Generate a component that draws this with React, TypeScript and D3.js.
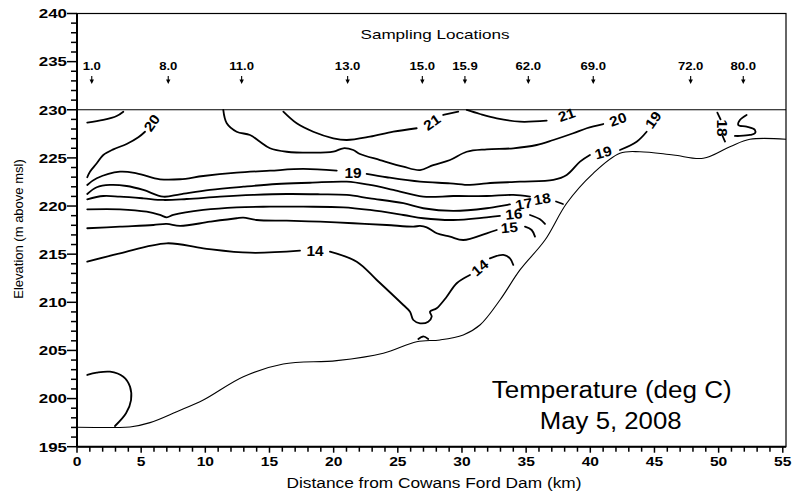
import React from "react";
import * as d3 from "d3";

type P = [number, number];

const xTicks = d3.range(0, 56, 5);
const xMinor = d3.range(0, 56, 1);
const yTicks = d3.range(195, 241, 5);
const yMinor = d3.range(195, 241, 1);

const stationKm = [1.15, 7.11, 12.83, 21.09, 26.91, 30.23, 35.17, 40.23, 47.82, 51.92];
const stationLabels = ["1.0", "8.0", "11.0", "13.0", "15.0", "15.9", "62.0", "69.0", "72.0", "80.0"];

const surfaceElev = 230;

const lakeBed: P[] = [[0, 197.02], [2.96, 197.0], [4.13, 197.05], [5.69, 197.5], [7.77, 198.64], [9.84, 199.85], [12.96, 202.27], [16.07, 203.59], [20.24, 203.94], [23.87, 204.71], [26.47, 205.91], [28.29, 206.09], [30.1, 206.61], [31.4, 207.64], [32.96, 210.24], [34.52, 213.36], [36.47, 216.47], [38.16, 220.29], [40.23, 223.4], [42.31, 225.48], [43.87, 225.64], [46.47, 225.3], [48.8, 224.96], [50.88, 226.16], [52.44, 226.93], [55.25, 226.93]];

const c21Left: P[] = [[0.8, 228.66], [2.05, 228.94], [3.09, 229.35], [3.61, 229.8]];
const c20Left: P[] = [[0.8, 222.99], [1.01, 223.57], [1.54, 224.44], [2.05, 225.3], [2.83, 225.89], [3.87, 226.44], [4.78, 227.14], [5.3, 227.72]];
const c20Main: P[] = [[11.4, 229.98], [11.67, 228.59], [12.44, 227.72], [13.48, 227.38], [14.26, 226.68], [15.04, 226.0], [16.34, 225.64], [18.16, 225.54], [19.97, 225.64], [20.75, 226.0], [21.53, 225.82], [22.05, 225.41], [23.61, 224.78], [25.43, 224.09], [26.73, 223.74], [27.76, 224.26], [29.07, 224.78], [30.37, 225.64], [31.93, 225.89], [34.0, 226.0], [35.82, 226.34], [37.12, 226.86], [38.67, 227.56], [39.72, 228.08], [41.01, 228.52]];
const c21a: P[] = [[16.08, 229.8], [17.12, 228.59], [18.41, 227.72], [19.97, 227.04], [21.02, 226.86], [22.83, 227.2], [24.65, 227.72], [26.47, 228.08]];
const c21aTail: P[] = [[28.54, 229.46], [29.71, 229.8]];
const c21b: P[] = [[30.37, 229.98], [31.4, 229.56], [32.71, 229.11], [34.52, 228.76], [36.6, 228.87]];
const c19a: P[] = [[0.8, 222.19], [1.54, 222.88], [3.35, 223.57], [4.65, 223.4], [6.47, 222.78], [8.03, 222.78], [9.84, 223.12], [12.44, 223.46], [15.04, 223.67], [17.63, 223.85], [20.24, 223.67]];
const c19b: P[] = [[22.57, 223.33], [24.13, 222.99], [26.73, 222.53], [29.07, 222.36], [30.62, 222.19], [31.93, 222.36], [34.52, 222.53], [37.12, 222.71], [38.16, 223.22], [39.2, 224.61], [39.97, 225.3]];
const c19c: P[] = [[42.31, 225.82], [43.61, 226.68], [44.39, 227.72]];
const c18: P[] = [[0.8, 221.25], [1.54, 221.95], [2.57, 222.19], [3.87, 222.08], [5.17, 221.67], [6.72, 220.97], [8.03, 221.22], [10.36, 221.67], [12.96, 222.01], [15.56, 222.29], [18.16, 222.42], [21.02, 222.53], [22.83, 222.19], [24.65, 221.67], [26.98, 220.97], [29.32, 221.04], [31.93, 221.04], [34.0, 221.15], [35.3, 220.97]];
const c18Tail: P[] = [[37.33, 220.47], [37.87, 220.21]];
const c17: P[] = [[0.8, 220.7], [2.05, 221.04], [3.35, 220.97], [5.17, 220.8], [6.72, 220.63], [8.55, 220.73], [11.14, 220.97], [13.74, 221.15], [16.34, 221.25], [18.94, 221.22], [21.02, 221.15], [22.83, 220.8], [25.43, 220.29], [26.98, 219.77], [29.32, 219.49], [31.93, 219.77], [33.74, 220.18]];
const c16: P[] = [[0.8, 219.66], [3.35, 219.66], [5.43, 219.41], [6.47, 219.07], [6.99, 218.83], [7.5, 219.07], [9.84, 219.59], [12.44, 219.87], [15.04, 219.93], [17.63, 219.93], [20.75, 219.87], [22.83, 219.59], [25.43, 219.07], [26.98, 218.73], [29.32, 218.55], [31.93, 218.83], [32.96, 218.97]];
const c16Tail: P[] = [[35.3, 219.07], [36.08, 218.62], [36.47, 218.14]];
const c15: P[] = [[0.8, 217.69], [3.35, 217.86], [5.95, 218.03], [6.99, 218.14], [8.03, 217.93], [10.36, 218.37], [12.44, 218.73], [12.96, 218.79], [14.0, 218.55], [16.34, 218.48], [18.94, 218.37], [21.53, 218.21], [24.13, 218.03], [26.21, 217.86], [26.73, 217.93], [27.25, 217.79], [28.03, 217.17], [29.07, 216.82], [30.1, 216.47], [31.93, 217.17], [32.71, 217.51]];
const c15Tail: P[] = [[34.91, 217.86], [35.43, 217.51], [35.69, 216.82]];
const c14a: P[] = [[0.8, 214.22], [3.35, 215.09], [6.99, 216.13], [9.84, 215.61], [13.48, 215.15], [17.38, 215.36]];
const c14b: P[] = [[19.71, 215.26], [21.8, 214.22], [23.36, 212.32], [25.43, 209.72], [25.95, 209.03], [26.21, 208.16], [26.73, 207.82], [27.37, 207.99], [27.64, 208.51], [27.51, 209.03], [28.03, 209.38], [28.81, 210.58], [29.59, 211.98], [30.62, 212.84]];
const c14c: P[] = [[32.18, 214.57], [33.22, 214.92], [33.74, 214.57], [34.0, 213.88]];
const c13Arc: P[] = [[26.6, 206.19], [26.98, 206.45], [27.37, 206.19]];
const cBottomLoop: P[] = [[0.8, 202.45], [1.54, 202.69], [2.57, 202.79], [3.61, 202.27], [4.13, 201.24], [4.21, 199.85], [3.82, 198.47], [2.96, 197.15]];
const c18RightTop: P[] = [[49.9, 229.7], [50.15, 229.0]];
const c18RightBottom: P[] = [[50.3, 227.3], [50.5, 226.7]];
const cRightS: P[] = [[52.18, 229.46], [51.66, 228.94], [51.53, 228.42], [52.18, 228.24], [52.83, 227.9], [52.83, 227.56], [52.44, 227.38], [51.66, 227.28], [51.27, 227.28]];

const contours: P[][] = [c21Left, c20Left, c20Main, c21a, c21aTail, c21b, c19a, c19b, c19c, c18, c18Tail, c17, c16, c16Tail, c15, c15Tail, c14a, c14b, c14c, c13Arc, cBottomLoop, c18RightTop, c18RightBottom, cRightS];

const labelText = ["20", "21", "21", "20", "19", "19", "19", "18", "17", "16", "15", "14", "14", "18"];
const labelKm = [5.84, 27.66, 38.16, 42.16, 21.51, 41.01, 44.91, 36.24, 34.83, 34.05, 33.69, 18.55, 31.4, 50.26];
const labelElev = [228.63, 228.68, 229.46, 228.99, 223.4, 225.54, 228.94, 220.73, 220.21, 219.14, 217.75, 215.33, 213.57, 228.11];
const labelAngle = [-55, -35, -20, -20, 0, -15, -55, -10, -10, -5, -5, 0, -40, 90];

const FONT = "'Liberation Sans', Arial, sans-serif";

function SText(props: { x: number; y: number; text: string; size: number; anchor?: string; sx?: number; weight?: string; rotate?: number; central?: boolean; len?: number }) {
  const { x, y, text, size, anchor = "middle", sx = 1, weight = "normal", rotate = 0, central = false, len } = props;
  return (
    <text
      transform={`translate(${x},${y}) rotate(${rotate}) scale(${sx},1)`}
      textAnchor={anchor as any}
      fontSize={size}
      fontWeight={weight}
      fontFamily={FONT}
      dominantBaseline={central ? "central" : undefined}
      textLength={len}
      lengthAdjust={len ? "spacingAndGlyphs" : undefined}
      fill="#000"
    >
      {text}
    </text>
  );
}

export default function App() {
  const x = d3.scaleLinear().domain([0, 55.25]).range([77, 786]);
  const y = d3.scaleLinear().domain([195, 240]).range([446.7, 13.5]);
  const line = d3.line<P>().x((d) => x(d[0])).y((d) => y(d[1])).curve(d3.curveCatmullRom.alpha(0.5));
  const x0 = x(0), x1 = x(55.25), yB = y(195), yT = y(240);

  return (
    <svg width={792} height={496} style={{ position: "absolute", left: 0, top: 0, background: "#fff" }}>
      <rect x={0} y={0} width={792} height={496} fill="#fff" />
      {/* frame */}
      <rect x={x0} y={yT} width={x1 - x0} height={yB - yT} fill="none" stroke="#000" strokeWidth={1.2} />
      <line x1={x0} x2={x0} y1={yT} y2={yB} stroke="#000" strokeWidth={2} />
      <line x1={x0} x2={x1} y1={yB} y2={yB} stroke="#000" strokeWidth={2} />
      {/* surface */}
      <line x1={x0} x2={x1} y1={y(surfaceElev)} y2={y(surfaceElev)} stroke="#000" strokeWidth={1.2} />
      {/* y ticks */}
      {yMinor.map((v) => (
        <line key={"ym" + v} x1={x0 - (v % 5 === 0 ? 10 : 6)} x2={x0} y1={y(v)} y2={y(v)} stroke="#000" strokeWidth={1.5} />
      ))}
      {yTicks.map((v) => (
        <SText key={"yl" + v} x={x0 - 10} y={y(v) + 4.8} text={String(v)} size={13} anchor="end" sx={1.3} weight="bold" />
      ))}
      {/* x ticks */}
      {xMinor.map((v) => (
        <line key={"xm" + v} x1={x(v)} x2={x(v)} y1={yB} y2={yB + (v % 5 === 0 ? 6 : 5)} stroke="#000" strokeWidth={1.5} />
      ))}
      {xTicks.map((v) => (
        <SText key={"xl" + v} x={x(v)} y={yB + 19} text={String(v)} size={13} sx={1.2} weight="bold" />
      ))}
      {/* axis titles */}
      <SText x={434} y={488} text="Distance from Cowans Ford Dam (km)" size={14} len={295} />
      <SText x={23} y={229} text="Elevation (m above msl)" size={13} rotate={-90} />
      {/* sampling locations */}
      <SText x={435} y={38.7} text="Sampling Locations" size={13} len={149} />
      {stationKm.map((k, i) => (
        <g key={"st" + i}>
          <SText x={x(k)} y={69.5} text={stationLabels[i]} size={10.5} sx={1.25} weight="bold" />
          <line x1={x(k)} x2={x(k)} y1={76} y2={82} stroke="#000" strokeWidth={1.1} />
          <path d={`M${x(k) - 2.2},${79.5} L${x(k) + 2.2},${79.5} L${x(k)},${84} Z`} fill="#000" />
        </g>
      ))}
      {/* lake bed */}
      <path d={line(lakeBed) || ""} fill="none" stroke="#000" strokeWidth={1.1} />
      {/* contours */}
      {contours.map((c, i) => (
        <path key={"c" + i} d={line(c) || ""} fill="none" stroke="#000" strokeWidth={1.8} strokeLinecap="round" strokeLinejoin="round" />
      ))}
      {labelText.map((t, i) => (
        <SText key={"lb" + i} x={x(labelKm[i])} y={y(labelElev[i])} text={t} size={14} sx={1.1} weight="bold" rotate={labelAngle[i]} central />
      ))}
      {/* title */}
      <SText x={611.7} y={398.3} text="Temperature (deg C)" size={23} len={240} />
      <SText x={610.7} y={429.3} text="May 5, 2008" size={23} len={141.7} />
    </svg>
  );
}
